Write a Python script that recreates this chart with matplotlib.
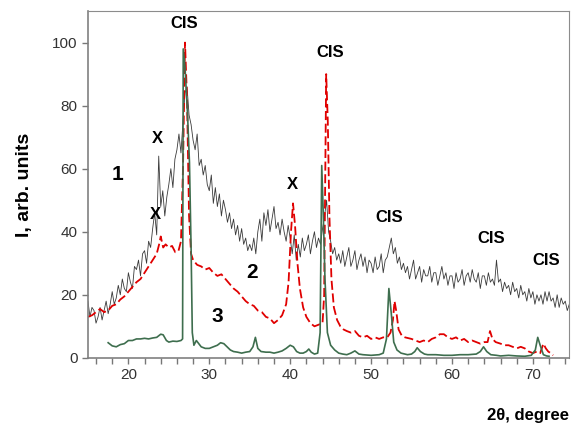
import numpy as np
import matplotlib
matplotlib.use("Agg")
import matplotlib.pyplot as plt
from matplotlib.ticker import MultipleLocator

plt.rcParams['font.family'] = ['Liberation Sans', 'DejaVu Sans']

# curve 1: noisy scan, sampled every 0.25 degree from 15 to 74.5
two_theta_1 = np.arange(15.0, 74.51, 0.25)
intensity_1 = [
    18, 13, 16, 15,  11, 13, 16, 12,  15, 18, 14, 17,  21, 17, 19, 23,
    20, 25, 22, 21,  27, 24, 22, 29,  28, 31, 26, 33,  34, 30, 37, 35,
    41, 46, 39, 64,  48, 53, 45, 51,  55, 60, 54, 63,  66, 71, 65, 75,
    84, 86, 77, 74,  69, 66, 71, 61,  63, 58, 61, 55,  53, 58, 49, 54,
    48, 52, 45, 50,  47, 43, 46, 41,  44, 39, 42, 37,  41, 36, 38, 34,
    36, 34, 38, 33,  40, 44, 37, 46,  42, 47, 40, 44,  48, 41, 43, 39,
    44, 40, 37, 42,  38, 33, 39, 31,  36, 32, 38, 34,  36, 39, 33, 37,
    40, 35, 38, 36,  41, 45, 50, 40,  37, 33, 35, 31,  33, 30, 34, 29,
    32, 35, 29, 31,  34, 28, 31, 33,  29, 32, 27, 31,  30, 27, 32, 28,
    29, 33, 27, 31,  32, 35, 38, 33,  35, 30, 32, 28,  30, 27, 29, 25,
    28, 31, 25, 27,  29, 24, 28, 26,  26, 29, 24, 27,  27, 23, 26, 29,
    25, 27, 23, 26,  26, 22, 27, 24,  25, 28, 23, 26,  27, 24, 28, 25,
    24, 27, 22, 26,  26, 23, 27, 24,  25, 23, 31, 24,  25, 21, 24, 22,
    23, 20, 24, 21,  22, 19, 23, 20,  21, 18, 22, 19,  21, 17, 20, 18,
    20, 17, 21, 18,  21, 18, 19, 16,  20, 16, 19, 17,  18, 15, 17,
]

# curve 2 (red dashed)
two_theta_2 = [15, 15.5, 16, 16.5, 17, 17.5, 18, 18.5, 19, 19.5, 20, 20.5, 21, 21.5,
               22, 22.5, 23, 23.5, 23.8, 24.0, 24.3, 24.6, 25, 25.4, 25.8, 26.2, 26.5,
               26.75, 27.0, 27.25, 27.5, 27.75, 28, 28.5, 29, 29.5, 30, 30.5, 31, 31.5,
               32, 32.5, 33, 33.5, 34, 34.5, 35, 35.5, 36, 36.5, 37, 37.5, 38, 38.5,
               39, 39.5, 39.8, 40.1, 40.35, 40.6, 40.9, 41.2, 41.6, 42, 42.5, 43, 43.5,
               44, 44.2, 44.45, 44.65, 44.85, 45.1, 45.4, 45.8, 46.2, 46.6, 47, 47.5,
               48, 48.5, 49, 49.5, 50, 50.5, 51, 51.5, 52, 52.4, 52.7, 52.9, 53.1,
               53.4, 53.8, 54.2, 55, 55.5, 56, 56.5, 57, 57.5, 58, 58.5, 59, 59.5, 60,
               60.5, 61, 61.5, 62, 62.5, 63, 63.5, 64, 64.4, 64.7, 65.0, 65.4, 66,
               66.5, 67, 67.5, 68, 68.5, 69, 69.5, 70, 70.5, 70.9, 71.3, 71.6, 71.9,
               72.2, 72.5]
intensity_2 = [13, 13.5, 14.5, 15.5, 14.5, 15, 16.5, 17, 18.5, 19.5, 21, 22.5, 24, 25,
               27, 29, 31, 33, 36, 38.5, 35, 36, 35, 35.5, 33.5, 34, 37,
               60, 100, 82, 45, 33, 31, 29.5, 29, 28, 28.5, 27, 26, 26.5,
               25, 23.5, 22, 21, 19.5, 18, 17, 16.5, 15, 14.5, 13, 12.5, 11, 12,
               13.5, 17, 24, 40, 49, 42, 30, 22, 16, 13, 11, 10, 10.5,
               11, 20, 90, 75, 45, 25, 16, 12, 10, 9, 8.5, 8,
               8.5, 7, 6.5, 7, 6, 6.5, 6, 6.5, 6.5, 8, 12, 18, 15,
               9, 7, 6.5, 6, 5.5, 5, 5.5, 5, 6, 6.5, 7.5, 7.5, 6.5, 6,
               6.5, 5.5, 6, 5, 5.5, 5, 4.5, 5, 5, 8.5, 6, 5, 4.5,
               4, 4, 3.5, 3, 3.5, 3, 2, 1.5, 2, 1.5, 4.5, 3, 2,
               1.5, 0.8]

# curve 3 (green)
two_theta_3 = [17.5, 18, 18.5, 19, 19.5, 20, 20.5, 21, 21.5, 22, 22.5, 23, 23.5, 24,
               24.3, 24.7, 25, 25.5, 26, 26.5, 26.7, 26.78, 27.0, 27.3, 27.55, 27.75,
               27.9, 28.1, 28.4, 28.7, 29, 29.5, 30, 30.5, 31, 31.4, 31.8, 32.2, 32.6, 33,
               33.5, 34, 34.5, 35, 35.4, 35.7, 36.0, 36.4, 37, 37.5, 38, 38.5, 39,
               39.5, 40, 40.4, 40.8, 41.2, 41.6, 42, 42.3, 42.6, 43, 43.4, 43.7, 43.9,
               44.1, 44.3, 44.6, 45, 45.5, 46, 46.5, 47, 47.5, 48, 48.5, 49, 50, 51,
               51.5, 51.9, 52.2, 52.5, 52.8, 53.2, 53.7, 54.5, 55, 55.4, 55.7, 56.1,
               56.6, 57, 58, 59, 60, 61, 62, 63, 63.5, 63.9, 64.3, 64.8, 65.5, 66, 67,
               68, 69, 69.8, 70.3, 70.6, 70.9, 71.3, 71.7, 72]
intensity_3 = [4.8, 3.8, 3.5, 4.2, 4.5, 5.5, 5.5, 6, 6, 6.2, 6, 6.3, 6.5, 7.5,
               7.3, 5.5, 5, 5.3, 5.2, 5.5, 6, 98, 92, 78, 62, 35,
               8, 4, 5.5, 4.5, 3.5, 3, 3, 3.5, 4, 4.8, 4.5, 3.5, 2.5, 2,
               1.8, 1.5, 1.8, 2, 3.5, 6.5, 3, 2, 1.8, 1.8, 1.5, 1.8, 2.2,
               3, 4, 3.5, 2, 1.5, 1.5, 2, 2.8, 1.8, 1.2, 1.5, 8, 61,
               45, 25, 8, 4, 2.5, 1.5, 1.2, 1, 1.5, 2.2, 1.2, 1, 0.8, 1,
               1.5, 6, 22, 14, 5, 2.5, 1.5, 1, 1.2, 2, 3.2, 2,
               1.2, 1, 1, 0.8, 0.8, 1, 1, 1.2, 2, 3.5, 2, 1, 0.8, 0.6, 0.8,
               0.6, 0.5, 0.8, 2.5, 6.5, 4, 1, 0.6, 0.5]

# annotations
peak_labels = [("CIS", 26.9, 106), ("CIS", 45.0, 97), ("CIS", 52.2, 44.5),
               ("CIS", 64.8, 38), ("CIS", 71.6, 31)]
phase_labels = [("X", 23.6, 69.5), ("X", 23.4, 45.5), ("X", 40.3, 55)]
curve_labels = [("1", 18.7, 58), ("2", 35.3, 27), ("3", 31.0, 13)]

fig = plt.figure(figsize=(5.71, 4.25), dpi=100)
ax = fig.add_axes([0.154, 0.158, 0.843, 0.816])

ax.plot(two_theta_1, intensity_1, color='#3a3a3a', lw=0.6)
ax.plot(two_theta_2, intensity_2, color='#e00000', lw=1.3, dashes=(5, 2))
ax.plot(two_theta_3, intensity_3, color='#3e6e4e', lw=1.2)

for txt, x, y in peak_labels:
    ax.text(x, y, txt, fontsize=12, fontweight='bold', ha='center', va='center')
for txt, x, y in phase_labels:
    ax.text(x, y, txt, fontsize=12, fontweight='bold', ha='center', va='center')
for txt, x, y in curve_labels:
    ax.text(x, y, txt, fontsize=15, fontweight='bold', ha='center', va='center')

ax.set_xlim(15, 74.5)
ax.set_ylim(0, 110)
ax.set_xticks([20, 30, 40, 50, 60, 70])
ax.xaxis.set_minor_locator(MultipleLocator(2))
ax.set_yticks([0, 20, 40, 60, 80, 100])
ax.tick_params(which='both', direction='out', length=4, width=1, color='#777777',
               labelsize=11, labelcolor='#333333')

for side in ['left', 'bottom']:
    ax.spines[side].set_color('#808080')
    ax.spines[side].set_linewidth(1.2)
for side in ['top', 'right']:
    ax.spines[side].set_color('#8c8c8c')
    ax.spines[side].set_linewidth(0.8)

ax.set_ylabel("I, arb. units", fontsize=14, fontweight='bold', labelpad=14)
fig.text(0.997, 0.022, "2θ, degree", fontsize=12, fontweight='bold',
         ha='right', va='center')

fig.savefig("out.png", dpi=100)
